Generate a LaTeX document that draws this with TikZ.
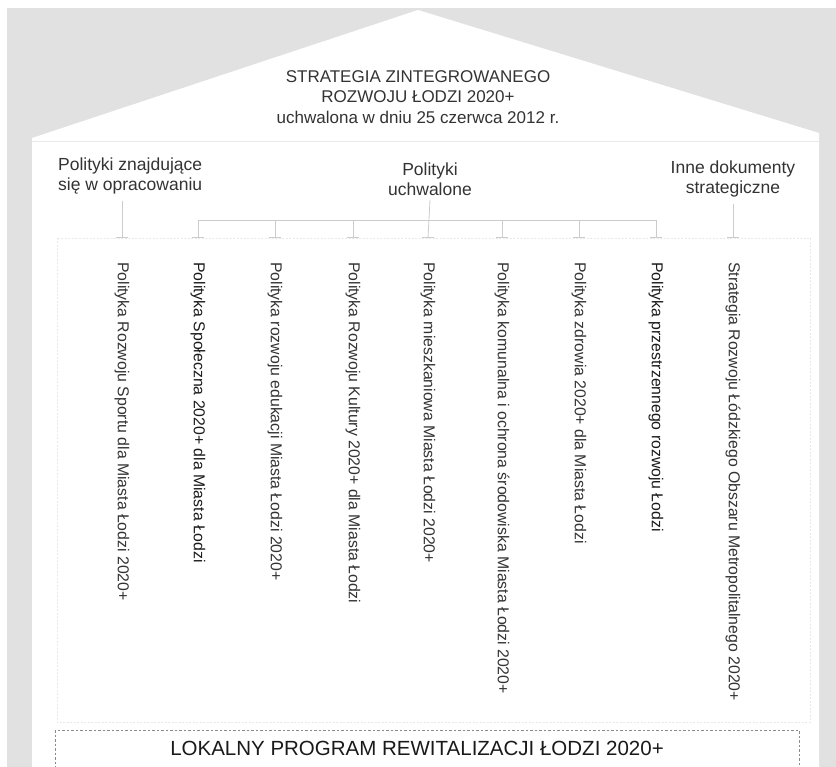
\documentclass[tikz,border=0pt]{standalone}
\usepackage{fontspec}
\setmainfont{Liberation Sans}
\definecolor{bggray}{HTML}{E1E1E1}
\definecolor{txt}{HTML}{333333}
\definecolor{txtdark}{HTML}{1A1A1A}
\definecolor{linec}{HTML}{CCCCCC}
\definecolor{faintc}{HTML}{E9E9E9}
\definecolor{dashc}{HTML}{8A8A8A}
\tikzset{
  titletext/.style={text=txt, align=center, font=\fontsize{17}{20.5}\selectfont, inner sep=0pt},
  headtext/.style={text=txt, font=\fontsize{17.5}{20.5}\selectfont, inner sep=0pt},
  coltext/.style={text=txt, rotate=-90, anchor=west, font=\fontsize{15.8}{18}\selectfont, inner sep=0pt},
  conn/.style={draw=linec, line width=0.8pt},
  tickmark/.style={draw=linec, line width=1pt},
  faintbox/.style={draw=faintc, line width=0.8pt, dash pattern=on 2pt off 1.5pt},
  lpbox/.style={draw=dashc, line width=0.8pt, dash pattern=on 2.5pt off 2pt}
}
\begin{document}
\begin{tikzpicture}[x=1pt,y=-1pt]
\useasboundingbox (0,0) rectangle (836,767);
\clip (0,0) rectangle (836,767);
\fill[white] (0,0) rectangle (836,767);
\fill[bggray] (7,8) rectangle (836,767);
\fill[white] (32,780) -- (32,138) -- (418,10) -- (819,133) -- (819,780) -- cycle;
\draw[faintc, line width=0.6pt] (32,141) -- (819,141);
\draw[faintbox] (57,238) rectangle (810,722);

% title
\node[titletext] (title) at (418,97) {STRATEGIA ZINTEGROWANEGO\\ROZWOJU ŁODZI 2020+\\uchwalona w dniu 25 czerwca 2012 r.};

% headers
\node[headtext, align=left, anchor=west] (hl) at (58,176) {Polityki znajdujące\\się w opracowaniu};
\node[headtext, align=center] (hc) at (430,179) {Polityki\\uchwalone};
\node[headtext, align=center] (hr) at (733,179) {Inne dokumenty\\strategiczne};

% tick coordinates
\foreach \i/\x in {1/122,2/198,3/275,4/353,5/428,6/502,7/579,8/656,9/733}{
  \coordinate (t\i) at (\x,238);
  \coordinate (b\i) at (\x,220);
  \draw[tickmark] ([xshift=-6pt]t\i) -- ([xshift=6pt]t\i);
}

% connectors
\draw[conn] (t1 |- hl.south) ++(0,6) -- (t1);
\draw[conn] (hc.south) ++(0,4) -- (t5);
\draw[conn] (t9 |- hr.south) ++(0,6) -- (t9);
\draw[conn] (b2) -- (b8);
\foreach \i in {2,3,4,6,7,8}{
  \draw[conn] (b\i) -- (t\i);
}

% column texts
\node[coltext] (c1) at (122,262) {Polityka Rozwoju Sportu dla Miasta Łodzi 2020+};
\node[coltext, text=txtdark] (c2) at (198,262) {Polityka Społeczna 2020+ dla Miasta Łodzi};
\node[coltext] (c3) at (275,262) {Polityka rozwoju edukacji Miasta Łodzi 2020+};
\node[coltext] (c4) at (353,262) {Polityka Rozwoju Kultury 2020+ dla Miasta Łodzi};
\node[coltext] (c5) at (428,262) {Polityka mieszkaniowa Miasta Łodzi 2020+};
\node[coltext] (c6) at (502,262) {Polityka komunalna i ochrona środowiska Miasta Łodzi 2020+};
\node[coltext] (c7) at (579,262) {Polityka zdrowia 2020+ dla Miasta Łodzi};
\node[coltext, text=txtdark] (c8) at (656,262) {Polityka przestrzennego rozwoju Łodzi};
\node[coltext] (c9) at (733,262) {Strategia Rozwoju Łódzkiego Obszaru Metropolitalnego 2020+};

% bottom program box
\draw[lpbox] (55,730) rectangle (799,785);
\node[text=txtdark, font=\fontsize{20.5}{24}\selectfont, inner sep=0pt] (lp) at (417,748) {LOKALNY PROGRAM REWITALIZACJI ŁODZI 2020+};
\end{tikzpicture}
\end{document}
